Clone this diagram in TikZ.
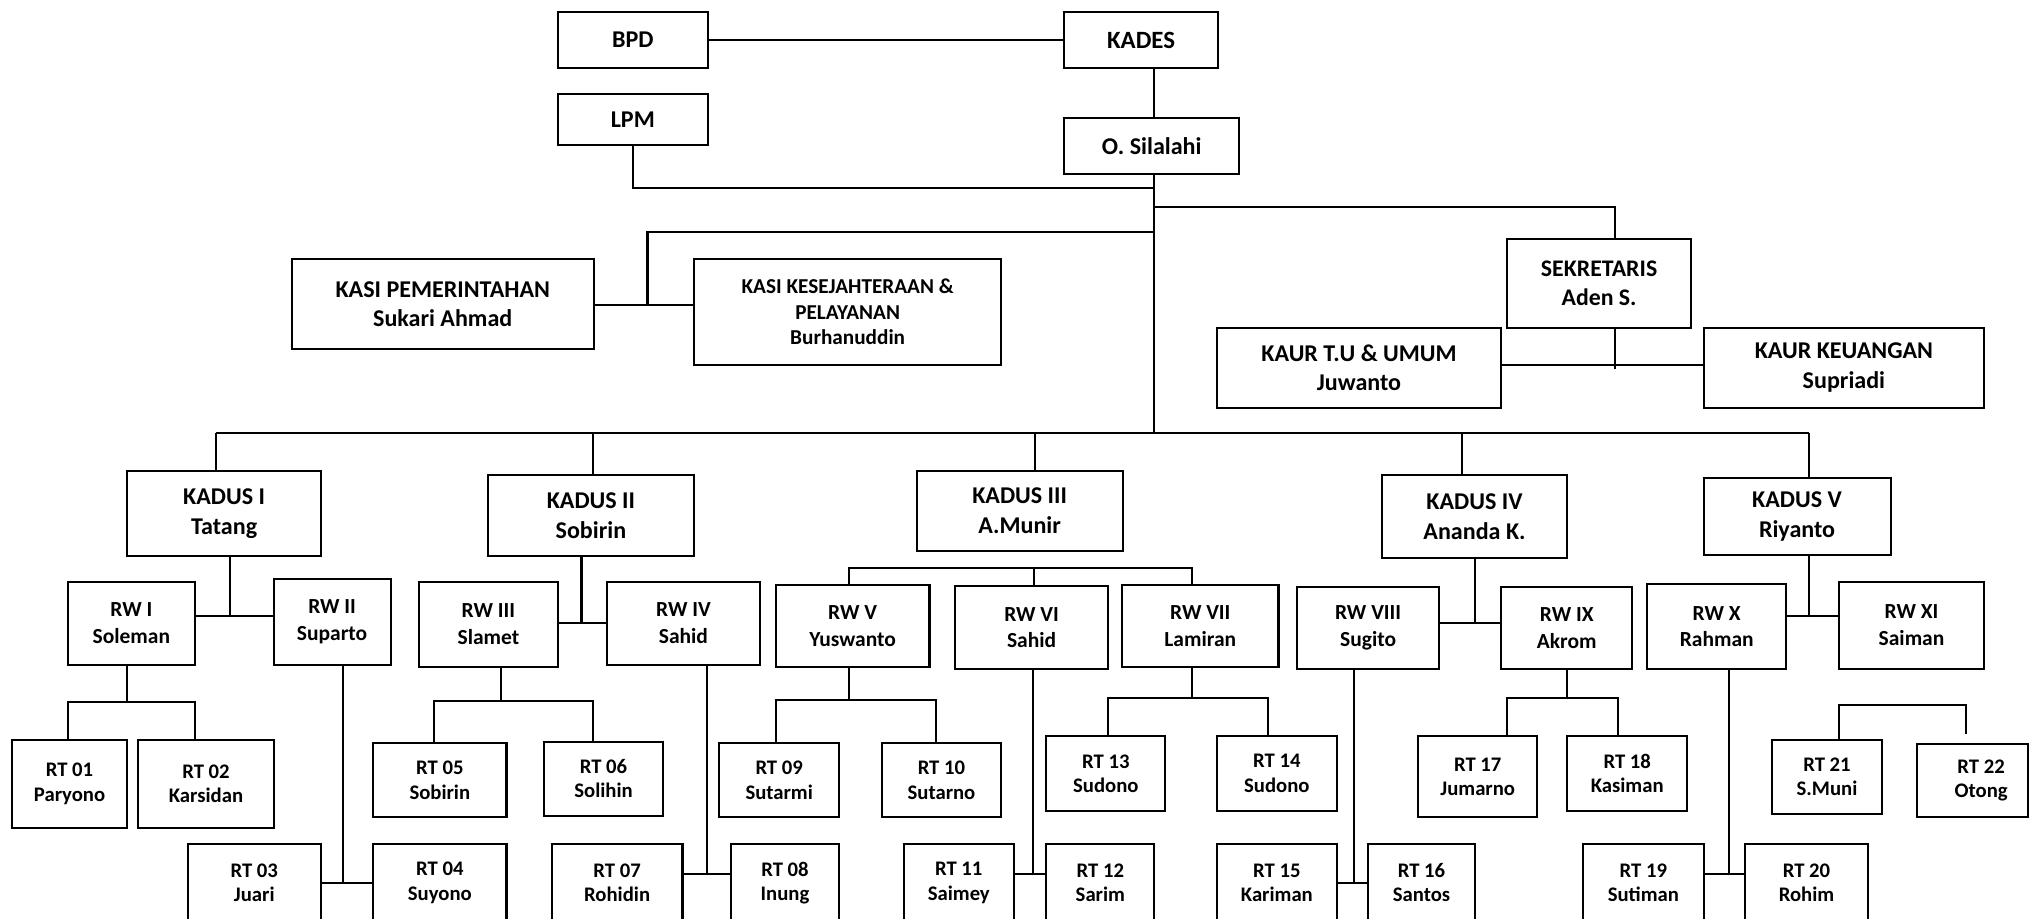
\documentclass[tikz,border=0pt]{standalone}
\usepackage{fontspec}
\setmainfont{Carlito}
\tikzset{
  box/.style={draw=black,line width=0.8pt,rectangle,inner sep=0pt,align=center,fill=white},
  fA/.style={font=\fontsize{9.3}{11.3}\selectfont\bfseries},
  fB/.style={font=\fontsize{9.3}{11.6}\selectfont\bfseries},
  fR/.style={font=\fontsize{8.3}{10.3}\selectfont\bfseries},
  fT/.style={font=\fontsize{8}{9.4}\selectfont\bfseries},
  fK/.style={font=\fontsize{8.2}{9.9}\selectfont\bfseries},
  fS/.style={font=\fontsize{9.2}{11.2}\selectfont\bfseries},
  conn/.style={draw=black,line width=0.8pt}
}
\newcommand\ob[7][]{\node[box,#1,minimum width={(#5-#3)*0.5pt},minimum height={(#6-#4)*0.5pt}] (#2) at ({(#3+#5)/2},{(#4+#6)/2}) {#7};}
\begin{document}
\begin{tikzpicture}[x=0.5pt,y=-0.5pt]
\clip (0,0) rectangle (1568,710);
\fill[white] (0,0) rectangle (1568,710);
% coordinates
\coordinate (trk) at (892,0);
\coordinate (j1) at (892,145.6);
\coordinate (j2) at (892,160);
\coordinate (sekx) at (1248,0);
\coordinate (j3) at (1248,285.4);
\coordinate (j4) at (1248,281.8);
\coordinate (j5) at (892,179);
\coordinate (j6) at (500.4,235.5);
\coordinate (bus) at (892,334.9);
\coordinate (b1) at (167,334.9);
\coordinate (b2) at (458.4,334.9);
\coordinate (b3) at (799.6,334.9);
\coordinate (b4) at (1129.5,334.9);
\coordinate (b5) at (1398,334.9);
\coordinate (h1) at (178,475.8);
\coordinate (c1) at (98,542.3);
\coordinate (c1l) at (52.5,542.3);
\coordinate (c1r) at (150.5,542.3);
\coordinate (c2) at (265.4,682.6);
\coordinate (h2) at (449.4,481.5);
\coordinate (c3) at (386.9,541.5);
\coordinate (c3l) at (335.4,541.5);
\coordinate (c3r) at (458.4,541.5);
\coordinate (c4) at (546.4,675.7);
\coordinate (k3l) at (656.3,438.7);
\coordinate (k3m) at (799,438.7);
\coordinate (k3r) at (921,438.7);
\coordinate (c5) at (656.3,541);
\coordinate (c5l) at (599.4,541);
\coordinate (c5r) at (723.3,541);
\coordinate (c6) at (798.6,675.7);
\coordinate (c7) at (921,539.2);
\coordinate (c7l) at (856.6,539.2);
\coordinate (c7r) at (979.6,539.2);
\coordinate (h4) at (1140,481.5);
\coordinate (c8) at (1046.5,682.6);
\coordinate (c9) at (1211,539.2);
\coordinate (c9l) at (1164.6,539.2);
\coordinate (c9r) at (1250.4,539.2);
\coordinate (h5) at (1398,475.8);
\coordinate (c10) at (1336.5,675.7);
\coordinate (c11l) at (1421.5,544.8);
\coordinate (c11r) at (1519.5,544.8);
\coordinate (c11e) at (1519.5,567.5);
% top
\ob[fA]{bpd}{431}{9}{547}{52.8}{BPD}
\ob[font=\fontsize{9.6}{11.6}\selectfont\bfseries]{kades}{822.6}{9}{941}{52.8}{KADES}
\ob[fA]{lpm}{431}{72.9}{547}{112.3}{LPM}
\ob[fA]{sil}{822.6}{90.9}{957.5}{134.7}{O. Silalahi}
\ob[fA]{kpem}{225.4}{200.2}{458.9}{270}{KASI PEMERINTAHAN\\Sukari Ahmad}
\ob[fK]{kkes}{536.3}{200.2}{773.8}{282.1}{KASI KESEJAHTERAAN \&\\PELAYANAN\\Burhanuddin}
\ob[fS]{sek}{1164.5}{184.4}{1307}{253.5}{SEKRETARIS\\Aden S.}
\ob[fA]{ktu}{940.5}{253.2}{1160}{315}{KAUR T.U \& UMUM\\Juwanto}
\ob[fA]{kkeu}{1316.5}{253.2}{1533.4}{315}{KAUR KEUANGAN\\Supriadi}
% kadus
\ob[fB]{kd1}{98}{364}{248.4}{429.4}{KADUS I\\Tatang}
\ob[fB]{kd2}{376.9}{367}{536.4}{429.4}{KADUS II\\Sobirin}
\ob[fB]{kd3}{708.3}{364}{867.6}{425.6}{KADUS III\\A.Munir}
\ob[fB]{kd4}{1068}{367}{1211}{431}{KADUS IV\\Ananda K.}
\ob[fB]{kd5}{1316.5}{369.2}{1461}{429.1}{KADUS V\\Riyanto}
% rw
\ob[fR]{rw1}{52.5}{449.5}{150.5}{513.7}{RW I\\Soleman}
\ob[fR]{rw2}{211.4}{447.7}{301.9}{513.7}{RW II\\Suparto}
\ob[fR]{rw3}{324}{449.5}{430.9}{515.5}{RW III\\Slamet}
\ob[fR]{rw4}{468.9}{449.5}{587.4}{513.7}{RW IV\\Sahid}
\ob[fR]{rw5}{599.4}{452}{718.3}{515.7}{RW V\\Yuswanto}
\ob[fR]{rw6}{738.3}{452.9}{856.1}{517}{RW VI\\Sahid}
\ob[fR]{rw7}{867.1}{452}{988}{515.7}{RW VII\\Lamiran}
\ob[fR]{rw8}{1002.5}{453.4}{1112}{517}{RW VIII\\Sugito}
\ob[fR]{rw9}{1160}{453.4}{1261.5}{517}{RW IX\\Akrom}
\ob[fR]{rw10}{1273}{451.3}{1380.4}{517}{RW X\\Rahman}
\ob[fR]{rw11}{1421}{449.5}{1533.4}{517}{RW XI\\Saiman}
% rt middle row
\ob[fT]{rt01}{9.5}{572}{98}{639.6}{RT 01\\Paryono}
\ob[fT]{rt02}{107}{572}{211.4}{639.6}{RT 02\\Karsidan}
\ob[fT]{rt05}{288.4}{574.4}{391.4}{631.4}{RT 05\\Sobirin}
\ob[fT]{rt06}{420.4}{573.2}{512.4}{630.4}{RT 06\\Solihin}
\ob[fT]{rt09}{555.9}{574.4}{648.4}{631.4}{RT 09\\Sutarmi}
\ob[fT]{rt10}{681.3}{574.4}{773.8}{631.4}{RT 10\\Sutarno}
\ob[fT]{rt13}{808.6}{569}{900.6}{626.5}{RT 13\\Sudono}
\ob[fT]{rt14}{940.5}{569}{1033}{626.5}{RT 14\\Sudono}
\ob[fT]{rt17}{1096}{569}{1188}{631.4}{RT 17\\Jumarno}
\ob[fT]{rt18}{1211}{569}{1304}{626.5}{RT 18\\Kasiman}
\ob[fT]{rt21}{1369.4}{572}{1454.4}{629}{RT 21\\S.Muni}
\ob[fT]{rt22}{1481.6}{574.7}{1567.2}{631.4}{}
\node[fT,align=center,inner sep=0pt] (rt22t) at (1531,603) {RT 22\\Otong};
% rt bottom row
\ob[fT]{rt03}{145}{652.5}{248}{712}{RT 03\\Juari}
\ob[fT]{rt04}{288.4}{652.5}{391.4}{712}{RT 04\\Suyono}
\ob[fT]{rt07}{426.4}{652.5}{527.4}{712}{RT 07\\Rohidin}
\ob[fT]{rt08}{564.9}{652.5}{648.4}{712}{RT 08\\Inung}
\ob[fT]{rt11}{698.3}{652.5}{783.6}{712}{RT 11\\Saimey}
\ob[fT]{rt12}{808.6}{652.5}{892.1}{712}{RT 12\\Sarim}
\ob[fT]{rt15}{940.5}{652.5}{1033}{712}{RT 15\\Kariman}
\ob[fT]{rt16}{1057}{652.5}{1140}{712}{RT 16\\Santos}
\ob[fT]{rt19}{1223.5}{652.5}{1316.5}{712}{RT 19\\Sutiman}
\ob[fT]{rt20}{1348.5}{652.5}{1443.6}{712}{RT 20\\Rohim}
% connectors top
\draw[conn] (bpd.east) -- (kades.west);
\draw[conn] (kades.south -| trk) -- (sil.north -| trk);
\draw[conn] (sil.south -| trk) -- (bus);
\draw[conn] (lpm.south) |- (j1);
\draw[conn] (j2) -| (sek.north -| sekx);
\draw[conn] (sek.south -| sekx) -- (j3);
\draw[conn] (ktu.east |- j4) -- (kkeu.west |- j4);
\draw[conn] (j5) -| (j6);
\draw[conn] (kpem.east |- j6) -- (kkes.west |- j6);
% bus
\draw[conn] (b1) -- (b5);
\draw[conn] (b1) -- (kd1.north -| b1);
\draw[conn] (b2) -- (kd2.north -| b2);
\draw[conn] (b3) -- (kd3.north -| b3);
\draw[conn] (b4) -- (kd4.north -| b4);
\draw[conn] (b5) -- (kd5.north -| b5);
% kadus I
\draw[conn] (kd1.south -| h1) -- (h1);
\draw[conn] (rw1.east |- h1) -- (rw2.west |- h1);
\draw[conn] (rw1.south -| c1) -- (c1);
\draw[conn] (rt01.north -| c1l) -- (c1l) -- (c1r) -- (rt02.north -| c1r);
\draw[conn] (rw2.south -| c2) -- (c2);
\draw[conn] (rt03.east |- c2) -- (rt04.west |- c2);
% kadus II
\draw[conn] (kd2.south -| h2) -- (h2);
\draw[conn] (rw3.east |- h2) -- (rw4.west |- h2);
\draw[conn] (rw3.south -| c3) -- (c3);
\draw[conn] (rt05.north -| c3l) -- (c3l) -- (c3r) -- (rt06.north -| c3r);
\draw[conn] (rw4.south -| c4) -- (c4);
\draw[conn] (rt07.east |- c4) -- (rt08.west |- c4);
% kadus III
\draw[conn] (rw5.north -| k3l) -- (k3l) -- (k3r) -- (rw7.north -| k3r);
\draw[conn] (k3m) -- (rw6.north -| k3m);
\draw[conn] (rw5.south -| c5) -- (c5);
\draw[conn] (rt09.north -| c5l) -- (c5l) -- (c5r) -- (rt10.north -| c5r);
\draw[conn] (rw6.south -| c6) -- (c6);
\draw[conn] (rt11.east |- c6) -- (rt12.west |- c6);
\draw[conn] (rw7.south -| c7) -- (c7);
\draw[conn] (rt13.north -| c7l) -- (c7l) -- (c7r) -- (rt14.north -| c7r);
% kadus IV
\draw[conn] (kd4.south -| h4) -- (h4);
\draw[conn] (rw8.east |- h4) -- (rw9.west |- h4);
\draw[conn] (rw8.south -| c8) -- (c8);
\draw[conn] (rt15.east |- c8) -- (rt16.west |- c8);
\draw[conn] (rw9.south -| c9) -- (c9);
\draw[conn] (rt17.north -| c9l) -- (c9l) -- (c9r) -- (rt18.north -| c9r);
% kadus V
\draw[conn] (kd5.south -| h5) -- (h5);
\draw[conn] (rw10.east |- h5) -- (rw11.west |- h5);
\draw[conn] (rw10.south -| c10) -- (c10);
\draw[conn] (rt19.east |- c10) -- (rt20.west |- c10);
\draw[conn] (rt21.north -| c11l) -- (c11l) -- (c11r) -- (c11e);
\end{tikzpicture}
\end{document}
